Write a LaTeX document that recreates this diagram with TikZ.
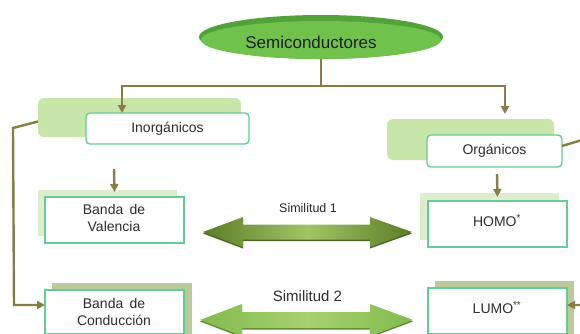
\documentclass[tikz,border=0pt]{standalone}
\usepackage{fontspec}
\setmainfont{Liberation Sans}
\usetikzlibrary{shapes.geometric,arrows.meta,calc}
\definecolor{conncol}{HTML}{8A7C45}
\definecolor{boxgreen}{HTML}{66CC96}
\definecolor{bggreen}{HTML}{C8E6A9}
\definecolor{bglight}{HTML}{DEEDCD}
\definecolor{bgdark}{HTML}{B9CB9D}
\definecolor{txt}{HTML}{2E2E2E}
\definecolor{semidark}{HTML}{52A23A}
\definecolor{semilight}{HTML}{70C24C}
\definecolor{aonedark}{HTML}{5C7C26}
\definecolor{aonelight}{HTML}{A2C466}
\definecolor{aoneshadow}{HTML}{4A6420}
\definecolor{atwodark}{HTML}{82BA4C}
\definecolor{atwolight}{HTML}{A8D172}
\definecolor{atwoshadow}{HTML}{5E8A30}
\begin{document}
\begin{tikzpicture}[x=1pt,y=-1pt,
  bgbox/.style={inner sep=0pt, outer sep=0pt, draw=none},
  fbox/.style={draw=boxgreen, line width=1.4pt, fill=white, inner sep=0pt, outer sep=0pt,
    align=center, font=\fontsize{14}{17}\selectfont, text=txt},
  lbl/.style={inner sep=0pt, align=center, font=\fontsize{14}{17}\selectfont, text=txt},
  conn/.style={draw=conncol, line width=2.4pt},
  arr/.style={-{Triangle[length=8pt,width=8pt]}}]
\useasboundingbox (0,0) rectangle (580,333);

% title ellipse
\node[ellipse, fill=semidark, minimum width=244pt, minimum height=44pt, inner sep=0pt, outer sep=0pt] (semi) at (321,37) {};
\fill[semilight] (321,40) ellipse [x radius=120pt, y radius=19pt];
\node[inner sep=0pt, font=\fontsize{17}{20}\selectfont, text=black!88] (semit) at (311,42) {Semiconductores};

% background boxes
\node[bgbox, fill=bggreen, rounded corners=6pt, minimum width=203pt, minimum height=39pt] (inorgbg) at (139.5,117.5) {};
\node[bgbox, fill=bggreen, rounded corners=6pt, minimum width=167pt, minimum height=41pt] (orgbg) at (470.5,139.5) {};
\node[bgbox, fill=bglight, minimum width=139pt, minimum height=46pt] (valbg) at (107.5,213) {};
\node[bgbox, fill=bgdark, minimum width=140pt, minimum height=57pt] (conbg) at (122,311.5) {};
\node[bgbox, fill=bglight, minimum width=139pt, minimum height=47pt] (homobg) at (489.5,216.5) {};
\node[bgbox, fill=bgdark, minimum width=139pt, minimum height=59pt] (lumobg) at (504.5,310.5) {};

% front boxes
\node[fbox, rounded corners=4pt, minimum width=163pt, minimum height=31pt] (inorg) at (167.5,128.5) {Inorgánicos};
\node[fbox, rounded corners=4pt, minimum width=135pt, minimum height=32pt] (org) at (494.5,151) {Orgánicos};
\node[fbox, minimum width=139pt, minimum height=46pt] (val) at (114.5,220) {};
\node[fbox, minimum width=139pt, minimum height=44pt] (con) at (114.5,312) {};
\node[fbox, minimum width=139pt, minimum height=46pt] (homo) at (497.5,224) {};
\node[fbox, minimum width=139pt, minimum height=46pt] (lumo) at (497.5,311) {};

\node[lbl] (valt) at (114,217.5) {Banda\ \,de\\Valencia};
\node[lbl] (cont) at (114,311.5) {Banda\ \,de\\Conducción};
\node[lbl] (homot) at (497,221) {HOMO\textsuperscript{*}};
\node[lbl] (lumot) at (497,308) {LUMO\textsuperscript{**}};

% connectors
\coordinate (hy) at (0,86);
\coordinate (inin) at (122,113);
\coordinate (orgin) at (505,114);
\draw[conn] (semi.south) -- (semi.south |- hy);
\draw[conn,arr] (semi.south |- hy) -| (inin);
\draw[conn,arr] (semi.south |- hy) -| (orgin);

\coordinate (lc1) at (13,128);
\coordinate (lc2) at (14,305);
\draw[conn,arr] ($(inorgbg.west)+(0,4)$) -- (lc1) -- (lc2) -- (con.west |- lc2);

\coordinate (rc1) at (592,137);
\coordinate (rc2) at (592,305);
\draw[conn,arr] ($(org.east)+(0,-5)$) -- (rc1) -- (rc2) -- (lumo.east |- rc2);

\coordinate (d1) at (114,169);
\draw[conn,arr] (d1) -- ($(val.north)+(0,-5)$);
\coordinate (d2) at (497,174);
\draw[conn,arr] (d2) -- ($(homo.north)+(0,-4)$);

% double arrows
\fill[aoneshadow] (203,233.5) -- (243,218.5) -- (243,226) -- (370,226) -- (370,218.5) -- (412,233.5) -- (370,248.5) -- (370,241) -- (243,241) -- (243,248.5) -- cycle;
\path[left color=aonedark, right color=aonedark, middle color=aonelight]
  (203,232) -- (243,217) -- (243,224.5) -- (370,224.5) -- (370,217) -- (412,232) -- (370,247) -- (370,239.5) -- (243,239.5) -- (243,247) -- cycle;
\fill[atwoshadow] (200,321.5) -- (242,305.5) -- (242,313.5) -- (370,313.5) -- (370,305.5) -- (413,321.5) -- (370,337.5) -- (370,329.5) -- (242,329.5) -- (242,337.5) -- cycle;
\path[left color=atwodark, right color=atwodark, middle color=atwolight]
  (200,320) -- (242,304) -- (242,312) -- (370,312) -- (370,304) -- (413,320) -- (370,336) -- (370,328) -- (242,328) -- (242,336) -- cycle;

\node[inner sep=0pt, font=\fontsize{12.5}{15}\selectfont, text=black!85] (sim1) at (308,208) {Similitud 1};
\node[inner sep=0pt, font=\fontsize{15}{18}\selectfont, text=txt] (sim2) at (307.5,296) {Similitud 2};
\end{tikzpicture}
\end{document}
